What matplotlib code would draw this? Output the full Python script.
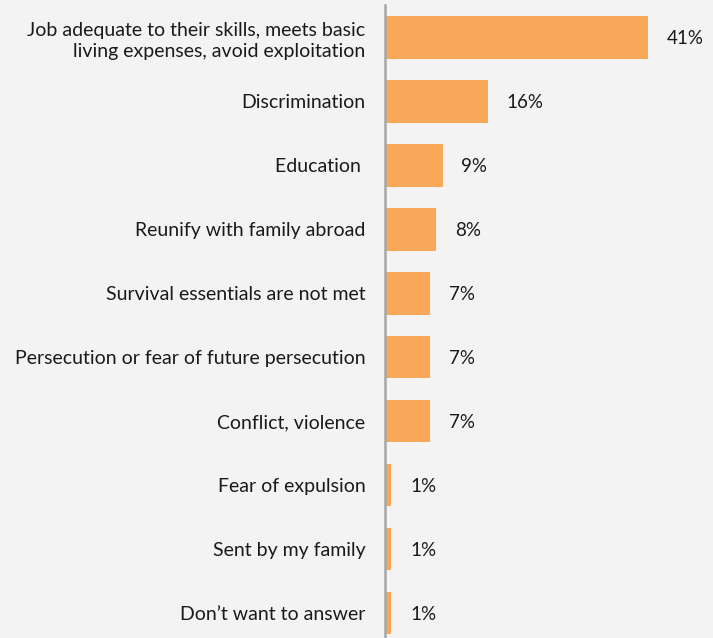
import numpy as np
import matplotlib.pyplot as plt

plt.rcParams['font.family'] = ['Lato', 'DejaVu Sans']

# reasons, top to bottom
labels = ["Job adequate to their skills, meets basic\nliving expenses, avoid exploitation",
          "Discrimination",
          "Education ",
          "Reunify with family abroad",
          "Survival essentials are not met",
          "Persecution or fear of future persecution",
          "Conflict, violence",
          "Fear of expulsion",
          "Sent by my family",
          "Don\u2019t want to answer"]
values = [41, 16, 9, 8, 7, 7, 7, 1, 1, 1]

bg = "#f3f3f3"
fig = plt.figure(figsize=(7.13, 6.38), dpi=100, facecolor=bg)
ax = fig.add_axes([0.54, -0.011, 0.45, 1.003])
ax.set_facecolor(bg)

y = np.arange(len(values))
ax.barh(y, values, height=0.67, color="#f9a85a", edgecolor="none")

for yi, v in zip(y, values):
    ax.text(v + 2.9, yi + 0.02, f"{v}%", va="center", ha="left", fontsize=13.5, color="#1a1a1a")

ax.set_yticks(y)
ax.set_yticklabels(labels, fontsize=14, color="#1a1a1a", ha="right", linespacing=1.3)
ax.tick_params(axis="y", length=0, pad=14)
ax.set_xticks([])
ax.set_xlim(0, 50)
ax.set_ylim(len(values) - 0.5, -0.5)

for s in ["top", "right", "bottom"]:
    ax.spines[s].set_visible(False)
ax.spines["left"].set_color("#a6a6a6")
ax.spines["left"].set_linewidth(1.8)

fig.savefig("out.png", dpi=100, facecolor=bg)
